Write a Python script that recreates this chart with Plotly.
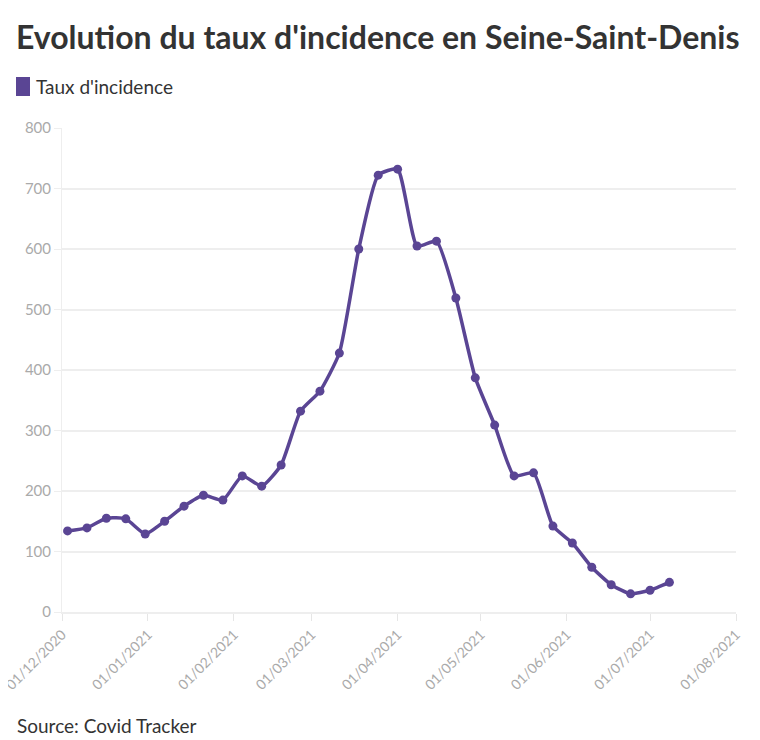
import plotly.graph_objects as go

# donnees hebdo (Covid Tracker)
dates = ['2020-12-03', '2020-12-10', '2020-12-17', '2020-12-24', '2020-12-31',
         '2021-01-07', '2021-01-14', '2021-01-21', '2021-01-28', '2021-02-04',
         '2021-02-11', '2021-02-18', '2021-02-25', '2021-03-04', '2021-03-11',
         '2021-03-18', '2021-03-25', '2021-04-01', '2021-04-08', '2021-04-15',
         '2021-04-22', '2021-04-29', '2021-05-06', '2021-05-13', '2021-05-20',
         '2021-05-27', '2021-06-03', '2021-06-10', '2021-06-17', '2021-06-24',
         '2021-07-01', '2021-07-08']
taux = [134, 139, 155, 154, 129, 150, 175, 193, 185, 225,
        208, 243, 332, 365, 428, 600, 722, 732, 605, 613,
        519, 387, 309, 225, 230, 142, 114, 74, 45, 30,
        36, 49]

tick_dates = ['2020-12-01', '2021-01-01', '2021-02-01', '2021-03-01', '2021-04-01',
              '2021-05-01', '2021-06-01', '2021-07-01', '2021-08-01']
tick_labels = ['01/12/2020', '01/01/2021', '01/02/2021', '01/03/2021', '01/04/2021',
               '01/05/2021', '01/06/2021', '01/07/2021', '01/08/2021']

violet = '#5a4594'
police = 'Source Sans Pro, Lato, sans-serif'

# zone de trace en pixels (la page ajoute 8px de marge au body)
L, T, W, H = 54, 120, 674, 484

def px(x):
    return (x - L) / W

def py(y):
    return (T + H - y) / H

fig = go.Figure()
fig.add_trace(go.Scatter(x=dates, y=taux, mode='lines+markers', name="Taux d'incidence",
                         line=dict(color=violet, width=3.5, shape='spline', smoothing=0.5),
                         marker=dict(color=violet, size=9)))

fig.update_layout(
    width=760, height=740,
    margin=dict(l=L, r=760 - L - W, t=T, b=740 - T - H),
    paper_bgcolor='white', plot_bgcolor='white',
    font=dict(family=police, color='#333333'),
    title=dict(text="<b>Evolution du taux d'incidence en Seine-Saint-Denis</b>",
               x=8/760, xanchor='left', y=1-30/740, yanchor='middle',
               font=dict(size=32, color='#333333', weight=900)),
    showlegend=False,
)
fig.update_xaxes(range=['2020-12-01', '2021-08-01'], tickvals=tick_dates, ticktext=tick_labels,
                 tickangle=-45, tickfont=dict(size=14, color='#aaaaaa'), automargin=False,
                 ticklabeloverflow='allow',
                 showgrid=False, showline=True, linecolor='#eeeeee', linewidth=2,
                 ticks='outside', ticklen=7, tickcolor='#e6e6e6', zeroline=False)
fig.update_yaxes(range=[0, 800], dtick=100, tickfont=dict(size=15, color='#aaaaaa'),
                 automargin=False,
                 showgrid=True, gridcolor='#eeeeee', gridwidth=1.5,
                 showline=True, linecolor='#eeeeee', linewidth=1,
                 ticks='outside', ticklen=7, tickcolor='#eeeeee', zeroline=False)

# legende faite a la main : pastille + texte
fig.add_shape(type='rect', xref='paper', yref='paper',
              x0=px(8), x1=px(22), y0=py(88), y1=py(69),
              fillcolor=violet, line=dict(width=0))
fig.add_annotation(text="Taux d'incidence", xref='paper', yref='paper',
                   x=px(26), y=py(79), xanchor='left', yanchor='middle',
                   showarrow=False, font=dict(size=19, color='#333333'))

fig.add_annotation(text='Source: Covid Tracker', xref='paper', yref='paper',
                   x=px(7), y=py(717), xanchor='left', yanchor='middle',
                   showarrow=False, font=dict(size=19, color='#333333'))

fig.write_html('out.html')
